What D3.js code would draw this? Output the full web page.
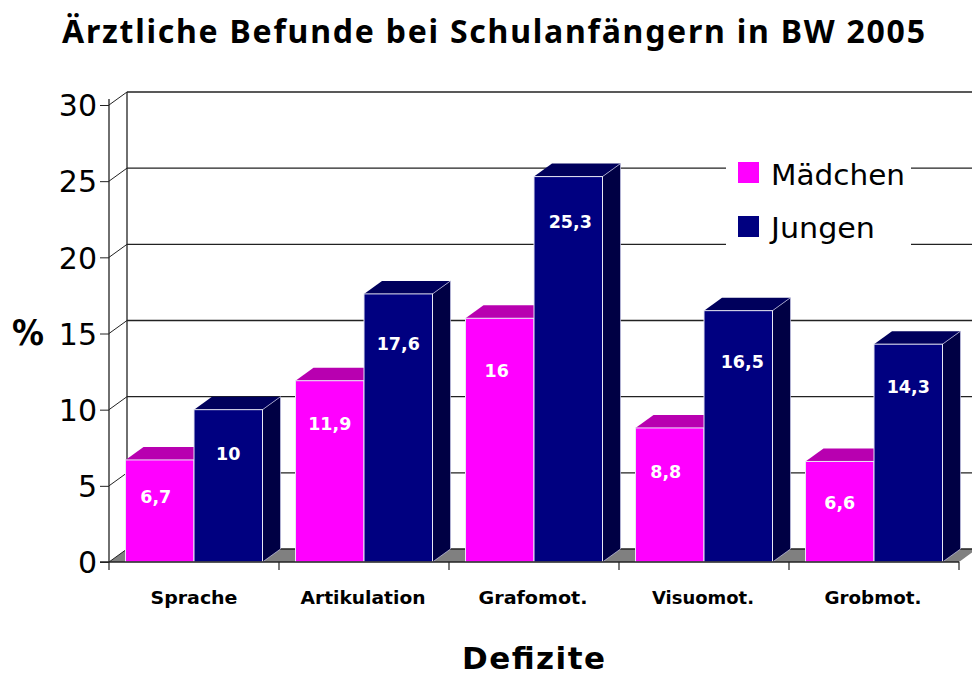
<!DOCTYPE html>
<html><head><meta charset="utf-8">
<script src="https://cdn.jsdelivr.net/npm/d3@7"></script>
<style>html,body{margin:0;background:#fff;overflow:hidden}svg{display:block}text{font-family:"DejaVu Sans",sans-serif;fill:#000}</style>
</head><body><svg id="c" width="972" height="677"></svg>
<script>
const categories=["Sprache","Artikulation","Grafomot.","Visuomot.","Grobmot."];
const seriesNames=["Mädchen","Jungen"];
const maedchen=[6.7,11.9,16,8.8,6.6];
const jungen=[10,17.6,25.3,16.5,14.3];
const maedchenLabels=["6,7","11,9","16","8,8","6,6"];
const jungenLabels=["10","17,6","25,3","16,5","14,3"];
const yTicks=[0,5,10,15,20,25,30];
const title="Ärztliche Befunde bei Schulanfängern in BW 2005";
const yTitle="%", xTitle="Defizite";

// layout nudges for the value labels, per series and category
const labelDrop=[[43,49,59,50,48],[50,56,51,57,49]];
const labelShift=[[-4,0,-3,-4,0],[0,0,2,4,0]];

const svg=d3.select("#c");
const dx=18,dy=-13;
const y=d3.scaleLinear().domain([0,30]).range([562,105]);
const x=d3.scaleBand().domain(categories).range([109,959]).paddingInner(0);
const inner=d3.scaleBand().domain([0,1]).range([16.5,16.5+137]);
const axisCol="#222";

function txt(s,px,py,size,weight,anchor,len,adjust){
  const t=svg.append("text").attr("x",px).attr("y",py).attr("font-size",size).attr("font-weight",weight).attr("text-anchor",anchor).text(s);
  if(len)t.attr("textLength",len).attr("lengthAdjust",adjust||"spacingAndGlyphs");
  return t;
}
// floor
svg.append("path").attr("d",`M109 ${y(0)}L${109+dx} ${y(0)+dy}H${959+dx}L959 ${y(0)}Z`).attr("fill","#808080");
// gridlines on back wall
svg.append("g").selectAll("line").data(yTicks).join("line")
  .attr("x1",109+dx).attr("x2",972).attr("y1",d=>y(d)+dy).attr("y2",d=>y(d)+dy).attr("stroke",axisCol).attr("stroke-width",1.3);
svg.append("line").attr("x1",109+dx).attr("x2",109+dx).attr("y1",y(0)+dy).attr("y2",y(30)+dy).attr("stroke",axisCol).attr("stroke-width",1.3);
// diagonals
svg.append("g").selectAll("line").data(yTicks).join("line")
  .attr("x1",109).attr("x2",109+dx).attr("y1",d=>y(d)).attr("y2",d=>y(d)+dy).attr("stroke",axisCol).attr("stroke-width",1);
// bars
const cols=[{f:"#ff00ff",t:"#b800b0"},{f:"#000080",t:"#00005c",s:"#000044"}];
const data=categories.map((c,i)=>[{c,i,k:0,v:maedchen[i],l:maedchenLabels[i]},{c,i,k:1,v:jungen[i],l:jungenLabels[i]}]);
const gs=svg.append("g").selectAll("g").data(data).join("g").attr("transform",d=>`translate(${x(d[0].c)},0)`);
const bars=gs.selectAll("g").data(d=>d).join("g");
bars.append("path").attr("d",d=>{const a=inner(d.k),b=a+inner.bandwidth(),t=y(d.v);return `M${a} ${t}l${dx} ${dy}H${b+dx}L${b} ${t}Z`;})
  .attr("fill",d=>cols[d.k].t);
bars.filter(d=>d.k==1).append("path").attr("d",d=>{const b=inner(d.k)+inner.bandwidth(),t=y(d.v);return `M${b} ${t}l${dx} ${dy}V${y(0)+dy}L${b} ${y(0)}Z`;})
  .attr("fill",d=>cols[d.k].s).attr("stroke","#c8c8e8").attr("stroke-width",0.7);
bars.append("rect").attr("x",d=>inner(d.k)).attr("width",inner.bandwidth()).attr("y",d=>y(d.v)).attr("height",d=>y(0)-y(d.v))
  .attr("fill",d=>cols[d.k].f).attr("stroke","#e8e8f4").attr("stroke-width",1);
bars.append("text").attr("x",d=>inner(d.k)+inner.bandwidth()/2+labelShift[d.k][d.i]).attr("y",d=>y(d.v)+labelDrop[d.k][d.i])
  .attr("text-anchor","middle").attr("font-size",17.5).attr("font-weight","bold").style("fill","#fff").text(d=>d.l);
// axes
const yAxis=d3.axisLeft(y).tickValues(yTicks).tickSize(9).tickPadding(3).tickFormat(d3.format("d"));
const ya=svg.append("g").attr("transform","translate(109,0)").call(yAxis);
ya.selectAll("path").attr("stroke",axisCol).attr("stroke-width",1.3).attr("d",`M0 ${y(30)-6}V${y(0)}`);
ya.selectAll("line").attr("stroke",axisCol);
ya.selectAll("text").attr("font-size",30).attr("dy","0.36em").attr("x",-12).attr("font-family",null);
const xTicksAt=[...categories.map(c=>x(c)),959];
svg.append("line").attr("x1",100).attr("x2",959).attr("y1",y(0)).attr("y2",y(0)).attr("stroke",axisCol).attr("stroke-width",1.3);
svg.append("g").selectAll("line").data(xTicksAt).join("line").attr("x1",d=>d).attr("x2",d=>d).attr("y1",y(0)).attr("y2",y(0)+8).attr("stroke",axisCol).attr("stroke-width",1.2);
const xLens=[87,125,109,102,97];
categories.forEach((c,i)=>txt(c,x(c)+x.bandwidth()/2+(i==0?0:-1),604,18,"bold","middle",xLens[i]));
// legend
svg.append("rect").attr("x",726).attr("y",150).attr("width",185).attr("height",100).attr("fill","#fff");
seriesNames.forEach((n,i)=>{
  const sy=[162,216][i];
  svg.append("rect").attr("x",738).attr("y",sy).attr("width",21).attr("height",21).attr("fill",cols[i].f);
  txt(n,771,[185,238][i],29,"normal","start",[134,104][i]);
});
txt(title,62,43,32,"bold","start",863,"spacing").style("font-family",'"Noto Sans",sans-serif');
txt(yTitle,12,345,35,"bold","start",32);
txt(xTitle,462,669,31,"bold","start",143,"spacing");
</script></body></html>
